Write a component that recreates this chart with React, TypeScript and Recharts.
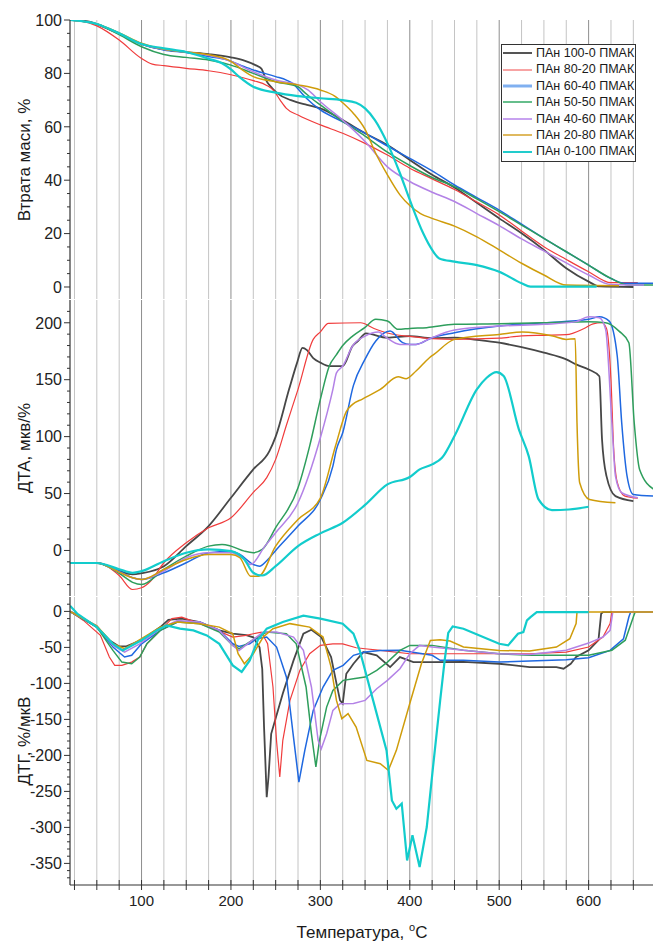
import React from 'react';
import { LineChart, Line, XAxis, YAxis, ReferenceLine } from 'recharts';

// ---------- categories / legend ----------
const SERIES_NAMES = [
  'ПАн 100-0 ПМАК',
  'ПАн 80-20 ПМАК',
  'ПАн 60-40 ПМАК',
  'ПАн 50-50 ПМАК',
  'ПАн 40-60 ПМАК',
  'ПАн 20-80 ПМАК',
  'ПАн 0-100 ПМАК',
];

const X_GRID = [25, 50, 75, 100, 125, 150, 175, 200, 225, 250, 275, 300, 325, 350, 375, 400, 425, 450, 475, 500, 525, 550, 575, 600, 625, 650];
const X_LABELS = [100, 200, 300, 400, 500, 600];

const TG_MAJOR = [0, 20, 40, 60, 80, 100];
const DTA_MAJOR = [0, 50, 100, 150, 200];
const DTG_MAJOR = [0, -50, -100, -150, -200, -250, -300, -350];

// ---------- TG (Втрата маси, %) : [T, value] ----------
const tg_100_0 = [[20,100],[40,99.5],[60,97],[80,94],[100,91],[125,89],[150,88],[175,87.2],[200,86],[215,84.8],[228,83],[234,81.8],[240,77],[246,74.5],[252,72.5],[267,70],[285,68.2],[300,66.9],[325,62.5],[350,57.6],[375,53.2],[400,47.6],[425,42],[450,37.3],[475,31.5],[500,25.7],[525,20.1],[550,13.9],[575,7],[600,2],[612,0.2],[650,0]];
const tg_80_20 = [[20,100],[35,99.5],[50,97.8],[75,92.5],[100,85.6],[112,83.5],[125,82.9],[150,81.9],[175,81],[200,79.5],[225,77.3],[240,75.5],[248,73.5],[255,70],[262,66.9],[275,64.4],[300,60.7],[325,57.6],[350,53.8],[375,49.4],[400,44.5],[425,40.5],[450,36.5],[475,31.8],[500,27],[525,21],[550,15.1],[575,10.3],[600,5.7],[625,1.6],[655,1.6]];
const tg_60_40 = [[20,100],[50,98.5],[75,95],[100,91],[125,88.8],[150,87.8],[175,86.3],[196,85],[210,83.2],[225,81.3],[250,78.8],[262,77.5],[270,76],[278,73],[285,70.5],[300,66.3],[325,61.9],[350,57.6],[375,52.8],[400,48.2],[425,43.5],[450,38.2],[475,33.5],[500,28.8],[525,23.5],[550,18.2],[575,13.2],[600,8.2],[625,3.2],[640,1.4],[672,1.4]];
const tg_50_50 = [[20,100],[50,98.5],[75,94.5],[100,90],[125,87.1],[150,86],[175,85],[200,83.1],[225,80],[250,76.9],[275,75],[282,73],[290,70.7],[300,68.2],[325,62],[350,56.5],[375,50.5],[400,45.5],[425,41],[450,37.6],[475,33],[500,28.2],[525,23.2],[550,18.2],[575,13.2],[600,8.2],[625,3.2],[645,0.7],[672,0.7]];
const tg_40_60 = [[20,100],[50,98.5],[75,95],[100,91],[125,89],[150,88],[175,86.8],[196,85],[225,80.6],[250,77.5],[275,75.7],[286,73.8],[300,69.4],[325,62.5],[350,54.5],[375,45],[400,39.5],[425,35.5],[450,32],[475,27.5],[500,23],[525,18],[550,13.5],[575,9],[600,4.5],[625,0.9],[662,0.7]];
const tg_20_80 = [[20,100],[50,98.5],[75,95.2],[100,91.3],[125,89],[150,88],[175,87],[200,84.5],[212,81.5],[225,78.8],[250,76.9],[275,75.7],[300,73.8],[316,71.5],[325,69],[337,65],[350,59],[362,50],[375,42],[389,34.5],[400,30.5],[412,27.5],[425,25.7],[450,22.8],[475,18.8],[500,13.9],[525,8.9],[550,4.5],[575,0.7],[634,0.5]];
const tg_0_100 = [[20,100],[50,98.5],[75,95],[100,91],[125,89.4],[150,88],[175,85.5],[190,83.8],[200,81.5],[209,78.8],[225,75],[250,72.8],[275,71.5],[300,70.7],[325,70],[340,69],[350,66.9],[361,62.5],[375,53.8],[389,42.6],[400,32.6],[415,20.1],[425,13.9],[433,10.7],[450,9.5],[475,8.2],[500,5.7],[525,1.4],[535,0.1],[609,0.1]];

// ---------- DTA (ДТА, мкв/%) ----------
const dta_100_0 = [[20,-11],[50,-11],[75,-18],[90,-21],[100,-20],[125,-13.8],[150,3.8],[175,21.4],[200,46.3],[225,71.2],[243,87.3],[250,100],[265,141.5],[274,165],[280,178],[285,176],[292,169],[300,165],[310,162],[325,162],[336,179.6],[342,184],[351,190.7],[375,186.9],[400,188.3],[425,186.5],[450,186.9],[475,185],[500,182.5],[525,178.5],[550,173.7],[575,167.8],[586,163.4],[600,159],[612,153],[615,97.5],[620,65.3],[630,47.7],[650,43.4]];
const dta_80_20 = [[20,-11],[50,-11],[75,-22],[90,-34.3],[100,-32.8],[110,-27],[125,-10.8],[150,6.7],[175,19.9],[200,28.7],[225,51],[240,64],[250,80],[262,110],[275,141.5],[292,185.4],[300,192],[309,199.5],[345,200],[360,195],[375,191],[400,188],[425,186],[450,185.5],[500,186.5],[525,188.5],[550,189],[575,189.5],[595,195],[605,199],[615,200],[620,195],[625,150],[628,90],[632,60],[640,48],[655,46]];
const dta_60_40 = [[20,-11],[50,-11],[75,-18],[90,-24],[100,-25.5],[125,-19.6],[150,-10.8],[175,-2],[200,-0.6],[210,-3.5],[225,-12.3],[232,-13.8],[240,-9],[251,0.9],[275,21.4],[300,44.8],[314,74.1],[318,88.8],[325,103.4],[337,145],[350,168],[362,184],[378,192.7],[392,182.5],[400,181],[407,181],[425,186.9],[450,191.3],[500,197.1],[550,200],[600,203],[612,205.3],[623,201.5],[632,170.8],[637,112.2],[643,65.3],[650,49.2],[673,47.7]];
const dta_50_50 = [[20,-11],[50,-11],[75,-20],[90,-28],[100,-29.9],[125,-16.7],[150,-5],[175,3.8],[190,5.3],[200,3.8],[215,-0.6],[225,-2],[235,0.9],[250,20],[275,55],[288,91.7],[300,132.7],[310,162],[318,172],[325,180],[336,188.3],[350,196],[362,203],[375,201.5],[387,194.2],[400,195],[419,195.7],[450,198.6],[500,199.2],[550,200],[600,201],[619,200],[634,192.7],[645,182.5],[651,112.2],[657,71.2],[673,53.6]];
const dta_40_60 = [[20,-11],[50,-11],[75,-19],[90,-24],[100,-25.5],[125,-18],[150,-6.4],[175,-2],[200,-2],[215,-7.9],[222,-12.3],[238,3.8],[250,15.5],[275,41.9],[300,99],[314,141.5],[318,156],[325,162],[336,179.6],[350,188.3],[365,191.9],[374,186.9],[389,181],[407,181],[422,186],[450,193.6],[500,197.1],[550,198.6],[586,201],[600,205.3],[612,204.5],[619,194.2],[626,112.2],[630,65.3],[637,50.7],[655,46.3]];
const dta_20_80 = [[20,-11],[50,-11],[75,-19],[90,-24],[100,-25.5],[125,-16.7],[150,-7.9],[175,-3.5],[200,-3.5],[210,-6.4],[222,-22.6],[231,-22.6],[250,3.8],[275,27.2],[300,46],[317,92],[329,122],[336,128.3],[347,133],[367,141.5],[387,152.6],[396,150.9],[407,157.6],[422,169.3],[427,172.2],[450,185.4],[500,189.8],[526,191.9],[560,188.3],[575,185.4],[585,186],[587,112.2],[590,59.5],[601,44.8],[630,41.9]];
const dta_0_100 = [[20,-11],[50,-11],[75,-16.5],[90,-19.6],[100,-18.2],[125,-9.4],[150,-2],[175,0.9],[200,-0.6],[215,-7.9],[225,-19.6],[235,-22],[250,-13.8],[275,3.8],[300,15],[325,24.3],[350,40],[375,58],[400,64.5],[411,71.2],[425,75.6],[436,81.4],[450,100.5],[475,141.5],[486,151.7],[497,156.7],[505,153.2],[522,106.3],[533,82.9],[544,44.8],[559,35.4],[578,36],[600,38.4]];

// ---------- DTG (ДТГ, %/мкВ) ----------
const dtg_100_0 = [[20,0],[35,-10],[50,-21.8],[64,-40],[75,-48.6],[83,-48.6],[100,-40],[121,-21.8],[130,-11.6],[145,-10],[165,-14.8],[187,-26.4],[202,-31],[217,-33],[225,-36],[232,-50],[235,-80],[237,-160],[240,-258],[242,-230],[245,-170],[258,-114],[270,-68],[281,-31],[290,-25.5],[301,-35.6],[312,-63.4],[318,-100],[322,-123.6],[325,-128],[329,-86.6],[337,-72.7],[348,-56.5],[363,-61],[378,-77.3],[389,-63.4],[404,-70.4],[425,-70.4],[460,-70],[500,-72.7],[534,-77.3],[564,-77.3],[572,-79.6],[580,-72.7],[586,-63.4],[600,-54],[611,-40],[614,-3.2],[616,-1],[672,-1]];
const dtg_80_20 = [[20,0],[35,-12.5],[54,-33.3],[64,-63.4],[70,-75],[78,-75],[89,-70.4],[98,-63.4],[106,-45],[121,-26.4],[134,-10],[145,-7.9],[165,-17],[180,-24],[202,-35.6],[217,-33.3],[225,-31],[234,-28.7],[241,-45],[247,-105],[251,-180],[254.6,-230],[258,-179],[266,-123.6],[277,-82],[288,-58.8],[300,-47.2],[314,-45],[325,-45],[340,-50.5],[350,-51.9],[367,-54.2],[400,-58.8],[425,-58.8],[460,-58.8],[500,-58.8],[534,-58.8],[575,-56.5],[600,-49.5],[616,-35.6],[624,-17],[626,-1],[672,-1]];
const dtg_60_40 = [[20,0],[50,-21.8],[68,-49.5],[81,-63.4],[89,-61],[100,-45],[121,-26.4],[140,-14.8],[165,-14.8],[187,-26.4],[202,-45],[209,-48.6],[221,-45],[228.5,-38],[240,-35.6],[251,-49.5],[262,-91],[269.5,-170],[276,-237],[282.6,-193],[292,-137.5],[303,-105],[314,-82],[325.5,-75],[337,-61],[350,-56.5],[367,-54.2],[389,-54],[425,-61],[434,-68],[460,-68],[500,-70.4],[534,-69],[575,-67],[600,-64.4],[624,-54.2],[639,-38],[645,-7.9],[647,-1],[672,-1]];
const dtg_50_50 = [[20,0],[50,-21.8],[68,-54.2],[78,-70.4],[89,-72.7],[98,-63.4],[106,-45],[121,-26.4],[140,-14.8],[165,-17],[187,-28.7],[202,-47.2],[209,-51.9],[224,-40],[240,-28.7],[262,-31],[273,-45],[284,-105],[290,-170],[295,-216],[299,-179],[307,-132.9],[314,-109.7],[325.5,-95.8],[337,-93.5],[350,-91.2],[363,-82],[375,-70.4],[389,-54.2],[400,-47.2],[425,-47.2],[460,-54],[500,-58.8],[534,-61],[575,-61],[600,-61],[626,-54],[641,-40],[650,-7.9],[652,-1],[672,-1]];
const dtg_40_60 = [[20,0],[50,-20],[68,-47.2],[81,-56.5],[98,-45],[121,-24],[140,-12.5],[165,-14.8],[187,-26.4],[202,-47.2],[209,-54.2],[224,-40],[236,-28.7],[251,-28.7],[270,-35.6],[281,-54.2],[290,-105],[297.5,-179],[301,-190.7],[307,-170],[314,-137.5],[322,-128.2],[337,-128],[350,-123.6],[363,-107.4],[375,-95.8],[389,-79.6],[400,-58.8],[411,-47.2],[425,-49.5],[460,-54],[500,-58.8],[534,-59.7],[575,-54],[600,-44],[616,-35.6],[624,-26.4],[627,-1],[672,-1]];
const dtg_20_80 = [[20,0],[50,-20],[68,-45],[81,-51.9],[100,-38],[121,-21.8],[140,-14.8],[165,-17],[187,-21.8],[202,-31],[208,-58.8],[215,-72.7],[225,-58.8],[236,-35.6],[247,-24],[266,-17],[288,-21.8],[303,-35.6],[312,-77.3],[318,-123.6],[324,-149],[331,-142],[340,-160.6],[352,-207],[367,-211.6],[376,-220.8],[385,-193],[400,-128],[413,-72.7],[423,-40.3],[434,-39.4],[445,-41.2],[460,-49.5],[500,-54.2],[534,-55],[564,-49.5],[579,-38],[586,-17],[587,-1],[672,-1]];
const dtg_0_100 = [[20,8],[28,-3],[50,-21.8],[68,-45],[79,-54.2],[100,-40],[117,-26.4],[128,-19.4],[143,-24],[158,-26.4],[173,-33.3],[187,-45],[202,-75],[212,-84],[221,-68],[230,-40],[240,-24],[258,-14.8],[281,-6],[300,-10],[325,-17],[337,-31],[344,-54],[359,-123.6],[374,-193],[380,-262.5],[385,-274],[391,-267],[397,-346],[403,-311],[411,-355],[419,-299.5],[426,-216],[434,-123.6],[439,-68],[443,-30],[448,-20.8],[460,-24],[500,-45],[510,-47.2],[521,-31],[527,-28.7],[531,-12.5],[535,-7.9],[542,-1],[600,-1]];

// ---------- styles ----------
const COLORS = ['#474747', '#f03c3c', '#1f68e0', '#2e9e5c', '#b382e6', '#cf9c0a', '#12cccc'];
const WIDTHS = [1.8, 1.2, 1.5, 1.5, 1.5, 1.5, 2.2];
const LEGEND_COLORS = ['#555555', '#f04848', '#80b0f0', '#33a866', '#c8a2f0', '#d4a22a', '#22cccc'];
const LEGEND_WIDTHS = [2, 1, 3, 1.5, 2, 1.5, 2];
const FONT = '"Liberation Sans", Arial, sans-serif';
const AXIS_COLOR = '#333';

const toRows = (pts: number[][]) => pts.map(([t, v]) => ({ t, v }));

const range = (a: number, b: number, step: number) => {
  const out: number[] = [];
  for (let v = a; v <= b + 1e-9; v += step) out.push(v);
  return out;
};

const makeYTick = (majors: number[]) => (props: any) => {
  const { x, y, payload } = props;
  const isMajor = majors.includes(payload.value);
  return (
    <g>
      <line x1={x - (isMajor ? 6 : 3)} x2={x} y1={y} y2={y} stroke={AXIS_COLOR} strokeWidth={1} />
      {isMajor && (
        <text x={x - 8} y={y} dy="0.36em" textAnchor="end" fontSize={16} fill="#222" fontFamily={FONT}>
          {payload.value}
        </text>
      )}
    </g>
  );
};

const makeXTick = (dir: 'up' | 'down' | 'both', labels: boolean) => (props: any) => {
  const { x, y, payload } = props;
  const isLabel = labels && X_LABELS.includes(payload.value);
  const y1 = dir === 'down' ? y : y - 5;
  const y2 = dir === 'up' ? y : y + 5;
  return (
    <g>
      <line x1={x} x2={x} y1={y1} y2={y2} stroke={AXIS_COLOR} strokeWidth={1} />
      {isLabel && (
        <text x={x} y={y + 10} dy="0.71em" textAnchor="middle" fontSize={15} fill="#222" fontFamily={FONT}>
          {payload.value}
        </text>
      )}
    </g>
  );
};

type PanelProps = {
  top: number;
  height: number;
  marginTop: number;
  bottomAxisHeight: number;
  domain: [number, number];
  yTicks: number[];
  majors: number[];
  series: number[][][];
  isBottom: boolean;
  curve: 'monotone' | 'linear';
};

function Panel(p: PanelProps) {
  return (
    <div style={{ position: 'absolute', left: 0, top: p.top }}>
      <LineChart width={653} height={p.height} margin={{ top: p.marginTop, right: 0, left: 0, bottom: 0 }}>
        <XAxis
          xAxisId="b"
          type="number"
          dataKey="t"
          domain={[20, 672]}
          allowDataOverflow
          ticks={X_GRID}
          interval={0}
          height={p.bottomAxisHeight}
          tickSize={0}
          tickMargin={0}
          tickLine={false}
          tick={makeXTick(p.isBottom ? 'both' : 'up', p.isBottom)}
          axisLine={{ stroke: AXIS_COLOR, strokeWidth: 1.2 }}
        />
        <XAxis
          xAxisId="t"
          orientation="top"
          type="number"
          dataKey="t"
          domain={[20, 672]}
          allowDataOverflow
          ticks={X_GRID}
          interval={0}
          height={0}
          tickSize={0}
          tickMargin={0}
          tickLine={false}
          tick={makeXTick('down', false)}
          axisLine={{ stroke: AXIS_COLOR, strokeWidth: 1.2 }}
        />
        <YAxis
          type="number"
          domain={p.domain}
          allowDataOverflow
          ticks={p.yTicks}
          interval={0}
          width={70}
          tickSize={0}
          tickMargin={0}
          tickLine={false}
          tick={makeYTick(p.majors)}
          axisLine={{ stroke: AXIS_COLOR, strokeWidth: 1.2 }}
        />
        {X_GRID.map((g) => (
          <ReferenceLine
            key={'g' + g}
            xAxisId="b"
            x={g}
            stroke={g % 100 === 0 ? '#8e8e8e' : '#c4c4c4'}
            strokeWidth={1}
          />
        ))}
        {p.series.map((pts, i) => (
          <Line
            key={SERIES_NAMES[i]}
            xAxisId="b"
            data={toRows(pts)}
            dataKey="v"
            name={SERIES_NAMES[i]}
            type={p.curve}
            stroke={COLORS[i]}
            strokeWidth={WIDTHS[i]}
            dot={false}
            activeDot={false}
            isAnimationActive={false}
          />
        ))}
      </LineChart>
    </div>
  );
}

const titleStyle: React.CSSProperties = {
  position: 'absolute',
  whiteSpace: 'nowrap',
  fontFamily: FONT,
  fontSize: 17,
  color: '#1a1a1a',
  lineHeight: 1,
};

export default function App() {
  return (
    <div style={{ position: 'absolute', left: 0, top: 0, width: 653, height: 943, background: '#fff', overflow: 'hidden', fontFamily: FONT }}>
      <Panel
        top={0}
        height={299}
        marginTop={20}
        bottomAxisHeight={0}
        domain={[-4.5, 100]}
        yTicks={range(0, 100, 5)}
        majors={TG_MAJOR}
        series={[tg_100_0, tg_80_20, tg_60_40, tg_50_50, tg_40_60, tg_20_80, tg_0_100]}
        isBottom={false}
        curve="monotone"
      />
      <Panel
        top={300}
        height={296}
        marginTop={0}
        bottomAxisHeight={0}
        domain={[-40, 220]}
        yTicks={range(-30, 210, 10)}
        majors={DTA_MAJOR}
        series={[dta_100_0, dta_80_20, dta_60_40, dta_50_50, dta_40_60, dta_20_80, dta_0_100]}
        isBottom={false}
        curve="monotone"
      />
      <Panel
        top={597}
        height={346}
        marginTop={0}
        bottomAxisHeight={58}
        domain={[-380, 20]}
        yTicks={range(-370, 10, 10)}
        majors={DTG_MAJOR}
        series={[dtg_100_0, dtg_80_20, dtg_60_40, dtg_50_50, dtg_40_60, dtg_20_80, dtg_0_100]}
        isBottom={true}
        curve="linear"
      />

      {/* axis titles */}
      <div style={{ ...titleStyle, left: 24, top: 159.5, transform: 'translate(-50%, -50%) rotate(-90deg)' }}>Втрата маси, %</div>
      <div style={{ ...titleStyle, left: 24, top: 448, transform: 'translate(-50%, -50%) rotate(-90deg)' }}>ДТА, мкв/%</div>
      <div style={{ ...titleStyle, left: 24, top: 741, transform: 'translate(-50%, -50%) rotate(-90deg)' }}>ДТГ, %/мкВ</div>
      <div style={{ ...titleStyle, left: 362, top: 932, transform: 'translate(-50%, -50%)' }}>
        Температура, <span style={{ fontSize: 11, position: 'relative', top: -7 }}>o</span>C
      </div>

      {/* legend */}
      <div
        style={{
          position: 'absolute',
          left: 501,
          top: 44,
          width: 135,
          height: 118,
          boxSizing: 'border-box',
          border: '1px solid #333',
          background: '#fff',
          paddingLeft: 1,
        }}
      >
        {SERIES_NAMES.map((name, i) => (
          <div key={name} style={{ display: 'flex', alignItems: 'center', height: 16.4 }}>
            <svg width={29} height={8} style={{ flex: 'none' }}>
              <line x1={0} x2={29} y1={4} y2={4} stroke={LEGEND_COLORS[i]} strokeWidth={LEGEND_WIDTHS[i]} />
            </svg>
            <span style={{ marginLeft: 4, fontSize: 12.5, color: '#1a1a1a', whiteSpace: 'nowrap', lineHeight: 1 }}>{name}</span>
          </div>
        ))}
      </div>
    </div>
  );
}
